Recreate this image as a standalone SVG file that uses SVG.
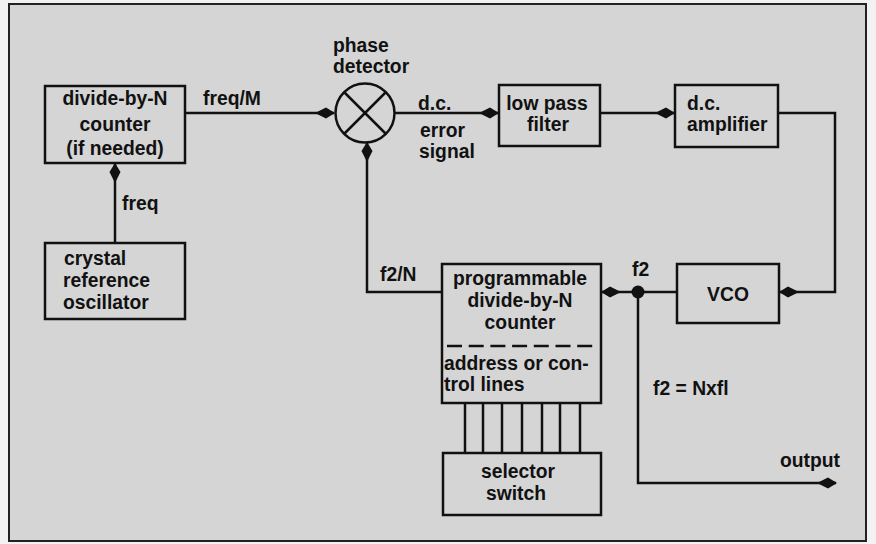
<svg xmlns="http://www.w3.org/2000/svg" width="876" height="544" viewBox="0 0 876 544">
<defs>
<style>
.bx{fill:none;stroke:#111;stroke-width:2.5}
.ln{fill:none;stroke:#111;stroke-width:2.5}
text{font-family:"Liberation Sans",Arial,sans-serif;font-weight:bold;font-size:21px;fill:#111}
.c{text-anchor:middle}
</style>
<marker id="ah" viewBox="-20 -7 22 14" refX="0" refY="0" markerWidth="22" markerHeight="14" markerUnits="userSpaceOnUse" orient="auto">
<path d="M1,0 L-8,-5.5 L-19,0 L-8,5.5 Z" fill="#111"/>
</marker>
</defs>
<rect x="0" y="0" width="876" height="544" fill="#f2f2f2"/>
<rect x="9" y="4" width="857" height="537" fill="#d5d5d5" stroke="#222" stroke-width="2"/>

<g id="connectors">
<line class="ln" x1="115" y1="243" x2="115" y2="164" marker-end="url(#ah)"/>
<line class="ln" x1="185" y1="113" x2="334" y2="113" marker-end="url(#ah)"/>
<line class="ln" x1="395" y1="113" x2="498" y2="113" marker-end="url(#ah)"/>
<line class="ln" x1="600" y1="113" x2="674" y2="113" marker-end="url(#ah)"/>
<polyline class="ln" points="778,113 835,113 835,292 780,292" marker-end="url(#ah)"/>
<line class="ln" x1="677" y1="292" x2="602" y2="292" marker-end="url(#ah)"/>
<circle cx="638" cy="292" r="6.5" fill="#111"/>
<polyline class="ln" points="638,292 638,483 836,483" marker-end="url(#ah)"/>
<polyline class="ln" points="442,292 367,292 367,143" marker-end="url(#ah)"/>
<g class="ln">
<line x1="465" y1="403" x2="465" y2="453"/>
<line x1="483" y1="403" x2="483" y2="453"/>
<line x1="502" y1="403" x2="502" y2="453"/>
<line x1="522" y1="403" x2="522" y2="453"/>
<line x1="542" y1="403" x2="542" y2="453"/>
<line x1="560" y1="403" x2="560" y2="453"/>
<line x1="580" y1="403" x2="580" y2="453"/>
</g>
<text transform="translate(122 210) scale(0.92 1)">freq</text>
<text transform="translate(203 105) scale(0.92 1)">freq/M</text>
<text transform="translate(418 110) scale(0.92 1)">d.c.</text>
<text transform="translate(420 137) scale(0.92 1)">error</text>
<text transform="translate(419 158) scale(0.92 1)">signal</text>
<text transform="translate(380 281) scale(0.92 1)">f2/N</text>
<text transform="translate(632 276) scale(0.92 1)">f2</text>
<text transform="translate(653 395) scale(0.92 1)">f2 = Nxfl</text>
<text transform="translate(780 467) scale(0.92 1)">output</text>
</g>

<g id="divider">
<rect class="bx" x="45" y="86" width="140" height="77"/>
<text class="c" transform="translate(115 105) scale(0.92 1)">divide-by-N</text>
<text class="c" transform="translate(115 131) scale(0.92 1)">counter</text>
<text class="c" transform="translate(115 155) scale(0.92 1)">(if needed)</text>
</g>

<g id="crystal">
<rect class="bx" x="45" y="243" width="140" height="76"/>
<text transform="translate(64 265) scale(0.92 1)">crystal</text>
<text transform="translate(63 287) scale(0.92 1)">reference</text>
<text transform="translate(63 309) scale(0.92 1)">oscillator</text>
</g>

<g id="phase-detector">
<circle cx="365" cy="113" r="29.5" fill="none" stroke="#111" stroke-width="2.5"/>
<line class="ln" x1="344" y1="92" x2="386" y2="134"/>
<line class="ln" x1="386" y1="92" x2="344" y2="134"/>
<text transform="translate(333 52) scale(0.92 1)">phase</text>
<text transform="translate(333 73) scale(0.92 1)">detector</text>
</g>

<g id="lpf">
<rect class="bx" x="499" y="85" width="101" height="61"/>
<text class="c" transform="translate(547 110) scale(0.92 1)">low pass</text>
<text class="c" transform="translate(548 131) scale(0.92 1)">filter</text>
</g>

<g id="dc-amp">
<rect class="bx" x="675" y="85" width="103" height="62"/>
<text transform="translate(687 110) scale(0.92 1)">d.c.</text>
<text transform="translate(687 131) scale(0.92 1)">amplifier</text>
</g>

<g id="vco">
<rect class="bx" x="677" y="264" width="102" height="59"/>
<text class="c" transform="translate(728 301) scale(0.92 1)">VCO</text>
</g>

<g id="programmable">
<rect class="bx" x="442" y="264" width="159" height="139"/>
<text class="c" transform="translate(520 285) scale(0.92 1)">programmable</text>
<text class="c" transform="translate(520 307) scale(0.92 1)">divide-by-N</text>
<text class="c" transform="translate(520 329) scale(0.92 1)">counter</text>
<line x1="447" y1="346" x2="598" y2="346" stroke="#111" stroke-width="2.5" stroke-dasharray="15 6.7"/>
<text transform="translate(444 370) scale(0.92 1)">address or con-</text>
<text transform="translate(444 391) scale(0.92 1)">trol lines</text>
</g>

<g id="selector">
<rect class="bx" x="443" y="453" width="158" height="62"/>
<text class="c" transform="translate(518 478) scale(0.92 1)">selector</text>
<text class="c" transform="translate(516 500) scale(0.92 1)">switch</text>
</g>
</svg>
